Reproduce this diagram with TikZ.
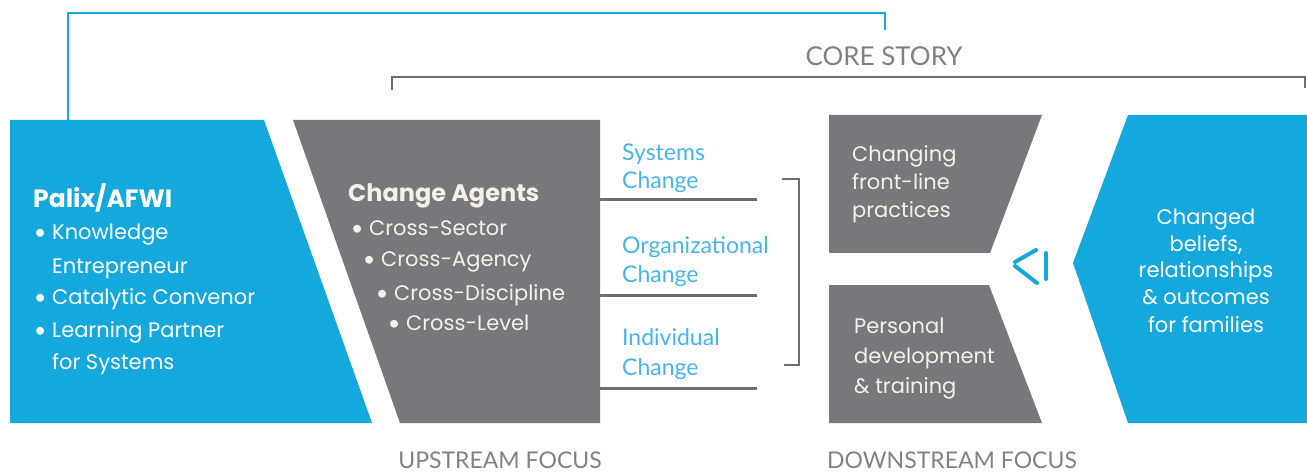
\documentclass[tikz,border=0pt]{standalone}
\usepackage{fontspec}
\setmainfont{Lato}
\newfontfamily\boxf{Poppins}
\definecolor{cblue}{HTML}{15A8DC}
\definecolor{cgray}{HTML}{77787B}
\definecolor{lgray}{HTML}{6D6E71}
\definecolor{tgray}{HTML}{808184}
\definecolor{lblue}{HTML}{45B6EA}
\definecolor{cream}{HTML}{F6F1E8}
\newcommand\bul{\llap{{\rmfamily\textbullet}\hspace{6pt}}}
\begin{document}
\begin{tikzpicture}[x=1pt,y=-1pt,
  every node/.style={inner sep=0pt},
  wtxt/.style={anchor=base west, text=white, font=\boxf\fontsize{21}{21}\selectfont},
  ctxt/.style={anchor=base west, text=cream, font=\boxf\fontsize{21}{21}\selectfont},
  btxt/.style={anchor=base west, text=lblue, font=\fontsize{23}{23}\selectfont},
  rtxt/.style={anchor=base, text=white, font=\boxf\fontsize{21}{21}\selectfont},
  ftxt/.style={anchor=base, text=tgray, font=\fontsize{23}{23}\selectfont},
  conn/.style={draw=lgray, line width=3pt},
  brk/.style={draw=lgray, line width=1.6pt},
  bline/.style={draw=cblue, line width=1.6pt},
  tri/.style={draw=cblue, line width=4pt, line cap=round}]
\useasboundingbox (0,0) rectangle (1307,473);
% shapes
\fill[cblue] (10,120) -- (264,120) -- (372,423) -- (10,423) -- cycle;
\fill[cgray] (293,120) -- (600,120) -- (600,423) -- (400,423) -- cycle;
\fill[cgray] (829,115) -- (1042,115) -- (990,253) -- (829,253) -- cycle;
\fill[cgray] (829,285) -- (989,285) -- (1042,423) -- (829,423) -- cycle;
\fill[cblue] (1128,115) -- (1307,115) -- (1307,423) -- (1128,423) -- (1073,263) -- cycle;
% top connectors
\coordinate (palixtop) at (68,120);
\coordinate (coreend) at (885,30);
\draw[bline] (palixtop) -- (68,13) -- (885,13) -- (coreend);
\coordinate (cl) at (392,90);
\coordinate (cr) at (1305,88);
\draw[brk] (cl) -- (392,77) -- (1305,77) -- (cr);
\node[ftxt, font=\fontsize{26}{26}\selectfont] (core) at (884,66) {CORE STORY};
% change lines
\coordinate (s0) at (600,200); \coordinate (s1) at (757,200);
\coordinate (o0) at (600,295); \coordinate (o1) at (757,295);
\coordinate (i0) at (600,388); \coordinate (i1) at (757,388);
\draw[conn] (s0) -- (s1);
\draw[conn] (o0) -- (o1);
\draw[conn] (i0) -- (i1);
\coordinate (b0) at (782,179); \coordinate (b1) at (784,365);
\draw[brk] (b0) -- (799,179) -- (799,365) -- (b1);
% triangle symbol
\draw[tri] (1036,250) -- (1015,262);
\draw[tri] (1015,266) -- (1037,283);
\draw[tri] (1046,253) -- (1046,279);
% left blue text
\node[wtxt, font=\boxf\bfseries\fontsize{25}{25}\selectfont] (palix) at (33,208) {Palix/AFWI};
\node[wtxt] (k1) at (52,240) {\bul Knowledge};
\node[wtxt] (k2) at (52,273) {Entrepreneur};
\node[wtxt] (k3) at (52,304) {\bul Catalytic Convenor};
\node[wtxt] (k4) at (52,337) {\bul Learning Partner};
\node[wtxt] (k5) at (52,369) {for Systems};
% change agents
\node[ctxt, font=\boxf\bfseries\fontsize{24}{24}\selectfont] (ca) at (348,202) {Change Agents};
\node[ctxt] (c1) at (369,236) {\bul Cross-Sector};
\node[ctxt] (c2) at (381,267) {\bul Cross-Agency};
\node[ctxt] (c3) at (394,300) {\bul Cross-Discipline};
\node[ctxt] (c4) at (406,330) {\bul Cross-Level};
% blue labels
\node[btxt] (sys1) at (622,161) {Systems};
\node[btxt] (sys2) at (622,189) {Change};
\node[btxt] (org1) at (622,254) {Organizational};
\node[btxt] (org2) at (622,283) {Change};
\node[btxt] (ind1) at (622,345) {Individual};
\node[btxt] (ind2) at (622,375) {Change};
% gray right text
\node[ctxt] (p1) at (852,162) {Changing};
\node[ctxt] (p2) at (852,190) {front-line};
\node[ctxt] (p3) at (852,218) {practices};
\node[ctxt] (d1) at (854,333) {Personal};
\node[ctxt] (d2) at (854,363) {development};
\node[ctxt] (d3) at (854,393) {\& training};
% right blue text
\node[rtxt] (r1) at (1206,225) {Changed};
\node[rtxt] (r2) at (1206,252) {beliefs,};
\node[rtxt] (r3) at (1206,278) {relationships};
\node[rtxt] (r4) at (1206,305) {\& outcomes};
\node[rtxt] (r5) at (1206,332) {for families};
% bottom labels
\node[ftxt] (up) at (500,468) {UPSTREAM FOCUS};
\node[ftxt] (down) at (952,468) {DOWNSTREAM FOCUS};
\end{tikzpicture}
\end{document}
